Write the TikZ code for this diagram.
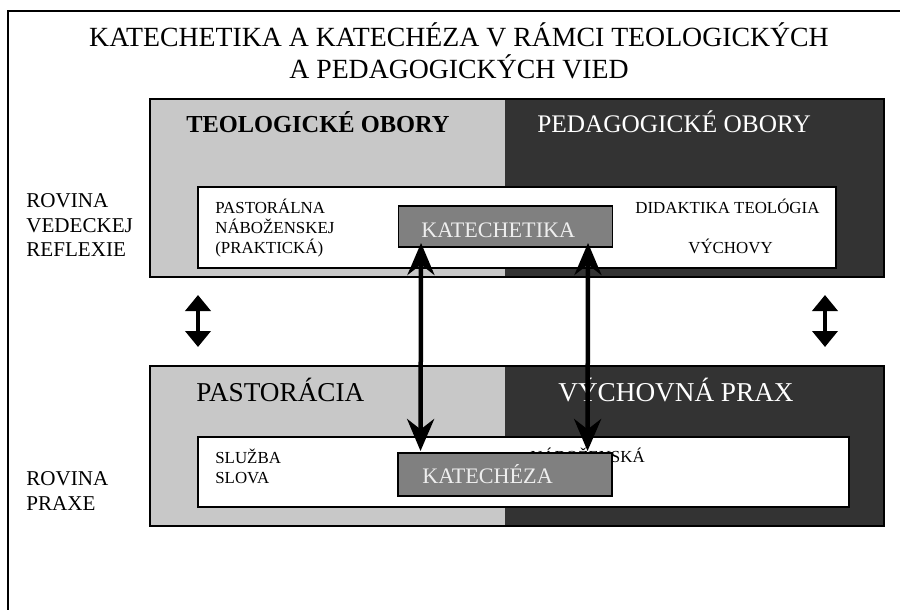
\documentclass[tikz,border=0pt]{standalone}
\usepackage{fontspec}
\setmainfont{Liberation Serif}
\usetikzlibrary{arrows.meta}

\definecolor{teogray}{HTML}{C8C8C8}
\definecolor{pedgray}{HTML}{333333}
\definecolor{katgray}{HTML}{808080}
\definecolor{katlight}{HTML}{EEEEEE}

\begin{document}
\begin{tikzpicture}[x=0.2mm, y=-0.2mm,
    field/.style={draw=black, line width=1.1pt},
    inbox/.style={draw=black, fill=white, line width=1.1pt},
    katbox/.style={draw=black, fill=katgray, line width=1.1pt, minimum width=42.8mm, inner sep=0pt},
    txt/.style={anchor=base west, inner sep=0pt, align=left},
    small/.style={txt, font=\fontsize{9.6}{11.1}\selectfont},
    side/.style={txt, font=\fontsize{12}{14.2}\selectfont},
    big/.style={txt, font=\fontsize{15.5}{18}\selectfont},
    kattxt/.style={txt, text=katlight, font=\fontsize{12.6}{14}\selectfont},
    titletxt/.style={anchor=base, inner sep=0pt, font=\fontsize{15.8}{18}\selectfont},
    bigarrow/.style={{Stealth[length=6.4mm,width=5.4mm]}-{Stealth[length=6.4mm,width=5.4mm]}, line width=0.9mm},
    sidearrow/.style={{Triangle[length=3.2mm,width=5mm]}-{Triangle[length=3.2mm,width=5mm]}, line width=0.8mm}
]
\useasboundingbox (0,0) rectangle (900,610);

% Frame (cut at right and bottom)
\draw[line width=1.1pt] (8,610) -- (8,11) -- (900,11);

% Title
\node[titletxt] (title1) at (459,47) {KATECHETIKA A KATECHÉZA V RÁMCI TEOLOGICKÝCH};
\node[titletxt] (title2) at (459,79) {A PEDAGOGICKÝCH VIED};

% Levels (base = last line)
\node[side] (vedecka) at (26,257) {ROVINA\\VEDECKEJ\\REFLEXIE};
\node[side] (praxe) at (26,510) {ROVINA\\PRAXE};

% Upper field
\fill[teogray] (150,99) rectangle (505,277);
\fill[pedgray] (505,99) rectangle (884,277);
\draw[field] (150,99) rectangle (884,277);
\draw[inbox] (198,187) rectangle (836,268);

\node[txt, font=\fontsize{13.9}{16}\selectfont\bfseries] (teoobory) at (186,133) {TEOLOGICKÉ OBORY};
\node[txt, text=white, font=\fontsize{14.4}{16}\selectfont] (pedobory) at (537,133) {PEDAGOGICKÉ OBORY};

\node[small] (pastoralna) at (215,253) {PASTORÁLNA\\NÁBOŽENSKEJ\\(PRAKTICKÁ)};
\node[small] (didaktika) at (635,214) {DIDAKTIKA TEOLÓGIA};
\node[small] (vychovy) at (688,253) {VÝCHOVY};

\node[katbox, minimum height=8.2mm] (katechetika) at (505.5,226.5) {};
\node[kattxt] (katechetikatxt) at (421,237) {KATECHETIKA};

% Lower field
\fill[teogray] (150,366) rectangle (505,526);
\fill[pedgray] (505,366) rectangle (884,526);
\draw[field] (150,366) rectangle (884,526);
\draw[inbox] (198,437) rectangle (849,507);

\node[big] (pastoracia) at (196,401) {PASTORÁCIA};
\node[big, text=white] (vychprax) at (558,401) {VÝCHOVNÁ PRAX};

\node[small] (sluzba) at (215,483) {SLUŽBA\\SLOVA};
\node[small] (nabozenska) at (530,462) {NÁBOŽENSKÁ};

\node[katbox, minimum height=8.6mm] (katecheza) at (505,474.5) {};
\node[kattxt] (katechezatxt) at (422,483) {KATECHÉZA};

% Arrows
\draw[bigarrow] ([xshift=4.7mm,yshift=1mm]katechetika.south west) -- ([xshift=4.7mm,yshift=0.2mm]katecheza.north west);
\draw[bigarrow] ([xshift=38.1mm,yshift=1mm]katechetika.south west) -- ([xshift=38.1mm,yshift=0.2mm]katecheza.north west);

\coordinate (lefttop) at (198,295);
\coordinate (leftbot) at (198,347);
\coordinate (righttop) at (825,295);
\coordinate (rightbot) at (825,347);
\draw[sidearrow] (lefttop) -- (leftbot);
\draw[sidearrow] (righttop) -- (rightbot);

\end{tikzpicture}
\end{document}
